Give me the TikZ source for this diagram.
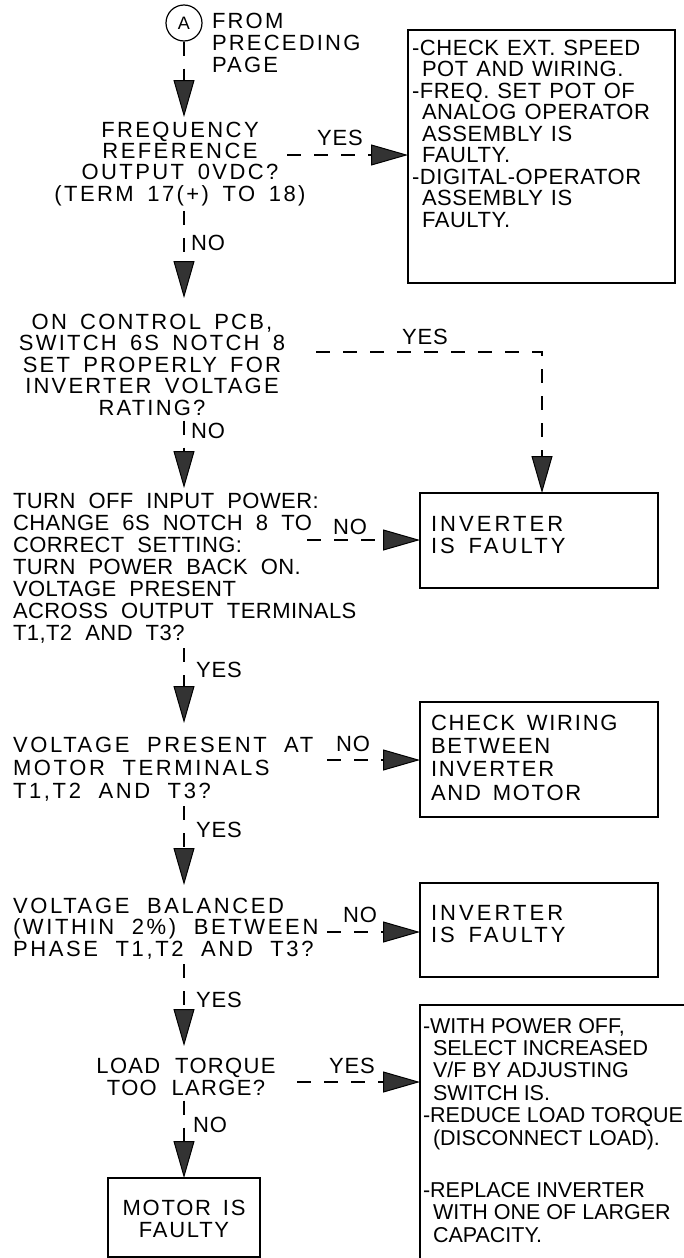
\documentclass[tikz,border=0pt]{standalone}
\usepackage{fontspec}
\setmainfont{Liberation Sans}
\usetikzlibrary{arrows.meta}
\newcommand{\Fnt}[4]{\fontsize{#1}{#2}\selectfont\addfontfeatures{LetterSpace=#3}\spaceskip=#4\fontdimen2\font\relax}
\newcommand{\ind}{\hspace*{10pt}}
\tikzset{
  conn/.style={line width=1.3pt, dash pattern=on 14pt off 13pt,
    -{Triangle[length=37pt,width=21pt,fill=black!80,line width=1pt]}},
  txt/.style={inner sep=0pt, outer sep=5pt},
  btxt/.style={inner sep=0pt, outer sep=0pt, anchor=north west, align=left},
  boxn/.style={draw, line width=1.2pt, rectangle, inner sep=0pt, outer sep=0pt, anchor=north west},
  lbl/.style={inner sep=0pt, font=\Fnt{22}{22}{4}{1}},
}
\begin{document}
\begin{tikzpicture}[x=1pt,y=-1pt]
\useasboundingbox (0,0) rectangle (683,1258);
\fill[white] (0,0) rectangle (683,1258);
\coordinate (col) at (184,0);

% start connector
\node[circle, draw, line width=1.2pt, minimum size=36pt, inner sep=0pt, font=\fontsize{18}{18}\selectfont] (A) at (184,23) {A};
\node[txt, anchor=north west, align=left, font=\Fnt{22}{22}{10}{1.5}] (from) at (207,8) {FROM\\PRECEDING\\PAGE};

% decisions
\node[txt, anchor=north, align=center, font=\Fnt{22}{21.3}{11}{1.6}] (d1) at (180,117)
  {FREQUENCY\\REFERENCE\\OUTPUT 0VDC?\\(TERM 17(+) TO 18)};
\node[txt, anchor=north, align=center, font=\Fnt{22}{21.5}{10}{1.6}] (d2) at (152,309)
  {ON CONTROL PCB,\\SWITCH 6S NOTCH 8\\SET PROPERLY FOR\\INVERTER VOLTAGE\\RATING?};
\node[txt, anchor=north west, align=left, font=\Fnt{22}{22}{2}{2}] (d3) at (8,488)
  {TURN OFF INPUT POWER:\\CHANGE 6S NOTCH 8 TO\\CORRECT SETTING:\\TURN POWER BACK ON.\\VOLTAGE PRESENT\\ACROSS OUTPUT TERMINALS\\T1,T2 AND T3?};
\node[txt, anchor=north west, align=left, font=\Fnt{22}{23}{12}{2}] (d4) at (8,732)
  {VOLTAGE PRESENT AT\\MOTOR TERMINALS\\T1,T2 AND T3?};
\node[txt, anchor=north west, align=left, font=\Fnt{22}{21.5}{12}{2}] (d5) at (8,893)
  {VOLTAGE BALANCED\\(WITHIN 2\%) BETWEEN\\PHASE T1,T2 AND T3?};
\node[txt, anchor=north, align=center, font=\Fnt{22}{22}{6}{2}] (d6) at (186,1053)
  {LOAD TORQUE\\TOO LARGE?};

% boxes
\node[boxn, minimum width=267pt, minimum height=253pt] (b1) at (408,30) {};
\node[btxt, font=\Fnt{22}{21.5}{2.6}{1.2}] (b1t) at (412,40)
  {-CHECK EXT. SPEED\\\ind POT AND WIRING.\\-FREQ. SET POT OF\\\ind ANALOG OPERATOR\\\ind ASSEMBLY IS\\\ind FAULTY.\\-DIGITAL-OPERATOR\\\ind ASSEMBLY IS\\\ind FAULTY.};

\node[boxn, minimum width=238pt, minimum height=95pt] (b2) at (420,493) {};
\node[btxt, font=\Fnt{22}{22}{14}{1.5}] (b2t) at (431,516) {INVERTER\\IS FAULTY};

\node[boxn, minimum width=238pt, minimum height=115pt] (b3) at (420,702) {};
\node[btxt, font=\Fnt{22}{23.3}{8}{1.5}] (b3t) at (431,715) {CHECK WIRING\\BETWEEN\\INVERTER\\AND MOTOR};

\node[boxn, minimum width=238pt, minimum height=94pt] (b4) at (420,883) {};
\node[btxt, font=\Fnt{22}{22}{14}{1.5}] (b4t) at (431,905) {INVERTER\\IS FAULTY};

\node[boxn, minimum width=300pt, minimum height=300pt] (b5) at (420,1005) {};
\node[btxt, font=\Fnt{21.5}{22.4}{0}{1}] (b5t) at (423,1018)
  {-WITH POWER OFF,\\\ind SELECT INCREASED\\\ind V/F BY ADJUSTING\\\ind SWITCH IS.\\-REDUCE LOAD TORQUE\\\ind (DISCONNECT LOAD).};
\node[btxt, font=\Fnt{21.5}{22.5}{0}{1}] (b5u) at (423,1182)
  {-REPLACE INVERTER\\\ind WITH ONE OF LARGER\\\ind CAPACITY.};

\node[boxn, minimum width=152pt, minimum height=79pt] (b6) at (108,1178) {};
\node[inner sep=0pt, anchor=north, align=center, font=\Fnt{22}{22}{8}{1.5}] (b6t) at (184,1200) {MOTOR IS\\FAULTY};

% labels
\node[lbl] (l1) at (340,138) {YES};
\node[lbl] (l2) at (208,243) {NO};
\node[lbl] (l3) at (425,337) {YES};
\node[lbl] (l4) at (208,431) {NO};
\node[lbl] (l5) at (350,527) {NO};
\node[lbl] (l6) at (219,670) {YES};
\node[lbl] (l7) at (353,744) {NO};
\node[lbl] (l8) at (219,830) {YES};
\node[lbl] (l9) at (360,915) {NO};
\node[lbl] (l10) at (219,1000) {YES};
\node[lbl] (l11) at (352,1066) {YES};
\node[lbl] (l12) at (210,1125) {NO};

% connectors
\coordinate (s1) at (287,155);
\coordinate (s2) at (316,352);
\coordinate (k2) at (542,0);
\coordinate (s3) at (307,540);
\coordinate (s4) at (327,760);
\coordinate (s5) at (327,932);
\coordinate (s6) at (297,1082);

\draw[conn] (A) -- (A |- d1.north);
\draw[conn] (s1) -- (s1 -| b1.west);
\draw[conn, shorten >=11pt] (d1.south -| col) -- (d2.north -| col);
\draw[conn] (s2) -| (k2 |- b2.north);
\draw[conn] (d2.south -| col) -- (d3.north -| col);
\draw[conn] (s3) -- (s3 -| b2.west);
\draw[conn, shorten >=9pt] (d3.south -| col) -- (d4.north -| col);
\draw[conn] (s4) -- (s4 -| b3.west);
\draw[conn, shorten >=8pt] (d4.south -| col) -- (d5.north -| col);
\draw[conn] (s5) -- (s5 -| b4.west);
\draw[conn, shorten >=7pt] (d5.south -| col) -- (d6.north -| col);
\draw[conn] (s6) -- (s6 -| b5.west);
\draw[conn] (d6.south -| col) -- (b6.north -| col);
\end{tikzpicture}
\end{document}
